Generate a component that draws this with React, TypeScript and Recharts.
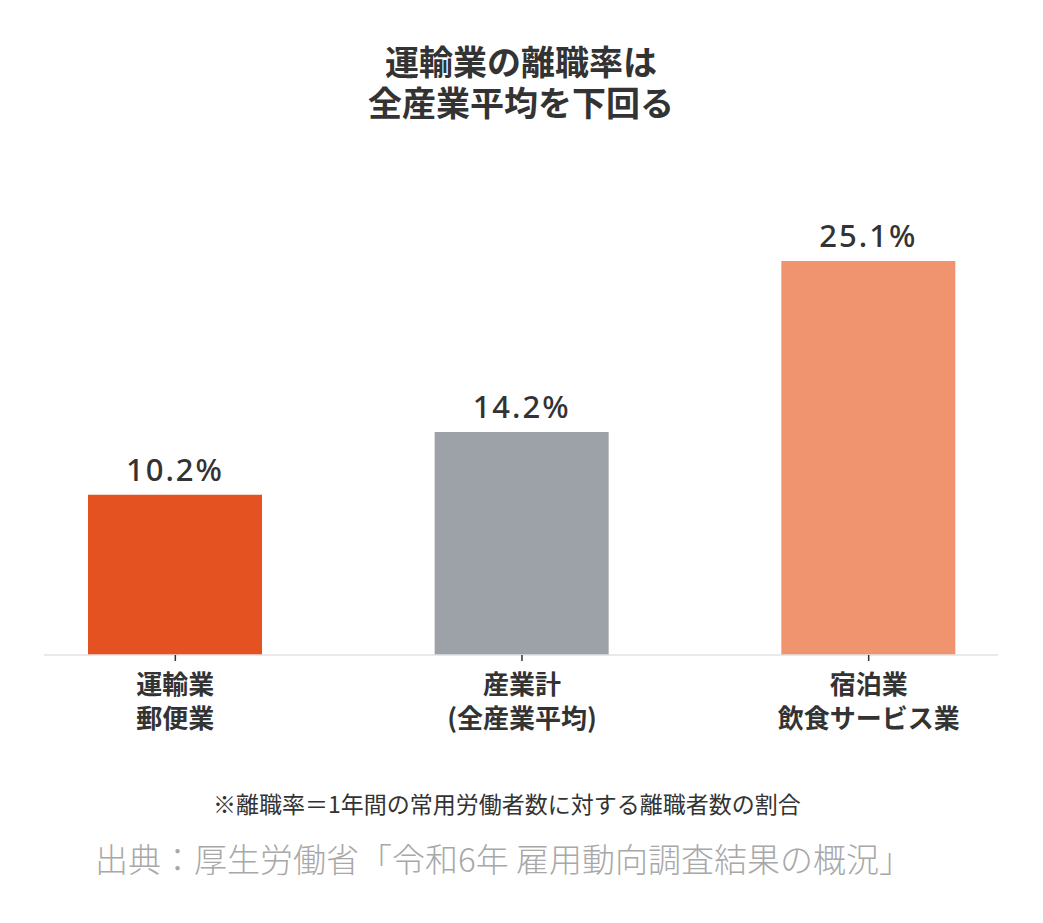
import React from "react";
import { BarChart, Bar, XAxis, YAxis, Cell, LabelList, ReferenceLine } from "recharts";

const categories = ["運輸業\n郵便業", "産業計\n(全産業平均)", "宿泊業\n飲食サービス業"];
const values = [10.2, 14.2, 25.1];
const colors = ["#E45222", "#9DA1A8", "#F09470"];
const titleLines = ["運輸業の離職率は", "全産業平均を下回る"];
const noteText = "※離職率＝1年間の常用労働者数に対する離職者数の割合";
const sourceText = "出典：厚生労働省「令和6年 雇用動向調査結果の概況」";

const data = categories.map((c, i) => ({ name: c, value: values[i] }));

const JP = '"Noto Sans CJK JP", "Noto Sans", sans-serif';

const Tick = (props: any) => {
  const { x, y, payload } = props;
  const lines = String(payload.value).split("\n");
  return (
    <g>
      {lines.map((l, i) => (
        <text
          key={i}
          x={x}
          y={y + 19 + i * 34}
          textAnchor="middle"
          dominantBaseline="central"
          fontFamily={JP}
          fontWeight={700}
          fontSize={26}
          fill="#333333"
        >
          {l}
        </text>
      ))}
    </g>
  );
};

const BaseLine = (props: any) => {
  const { x1, y1, x2, y2 } = props;
  return <line x1={x1 + 42} y1={y1} x2={x2 - 44} y2={y2} stroke="#e2e2e2" strokeWidth={1.5} />;
};

export default function App() {
  return (
    <div style={{ position: "absolute", left: 0, top: 0, width: 1043, height: 923, background: "#fff" }}>
      <svg width={1043} height={130} style={{ position: "absolute", left: 0, top: 0 }}>
        {titleLines.map((t, i) => (
          <text
            key={i}
            x={521}
            y={60 + i * 41}
            textAnchor="middle"
            dominantBaseline="central"
            fontFamily={JP}
            fontWeight={700}
            fontSize={34}
            fill="#333333"
          >
            {t}
          </text>
        ))}
      </svg>
      <div style={{ position: "absolute", left: 0, top: 0 }}>
        <BarChart width={1043} height={740} data={data} margin={{ top: 184, right: 1, left: 2, bottom: 0 }}>
          <YAxis hide domain={[0, 30]} />
          <XAxis
            dataKey="name"
            axisLine={false}
            tickLine={{ stroke: "#333333", strokeWidth: 1.5 }}
            tickSize={6}
            tick={<Tick />}
            height={85}
            interval={0}
          />
          <ReferenceLine y={0} shape={<BaseLine />} />
          <Bar dataKey="value" barSize={174} isAnimationActive={false}>
            {data.map((d, i) => (
              <Cell key={i} fill={colors[i]} />
            ))}
            <LabelList
              dataKey="value"
              position="top"
              offset={14}
              formatter={(v: any) => `${Number(v).toFixed(1)}%`}
              style={{ fontFamily: '"Noto Sans", sans-serif', fontWeight: 500, fontSize: 31, fill: "#333333", letterSpacing: 2 }}
            />
          </Bar>
        </BarChart>
      </div>
      <div
        style={{
          position: "absolute",
          left: 213,
          top: 789,
          fontFamily: JP,
          fontSize: 23,
          lineHeight: "28px",
          color: "#333333",
          whiteSpace: "nowrap",
        }}
      >
        {noteText}
      </div>
      <div
        style={{
          position: "absolute",
          left: 95,
          top: 838,
          fontFamily: JP,
          fontSize: 33,
          lineHeight: "40px",
          color: "#a8a8a8",
          fontWeight: 300,
          whiteSpace: "nowrap",
        }}
      >
        {sourceText}
      </div>
    </div>
  );
}
